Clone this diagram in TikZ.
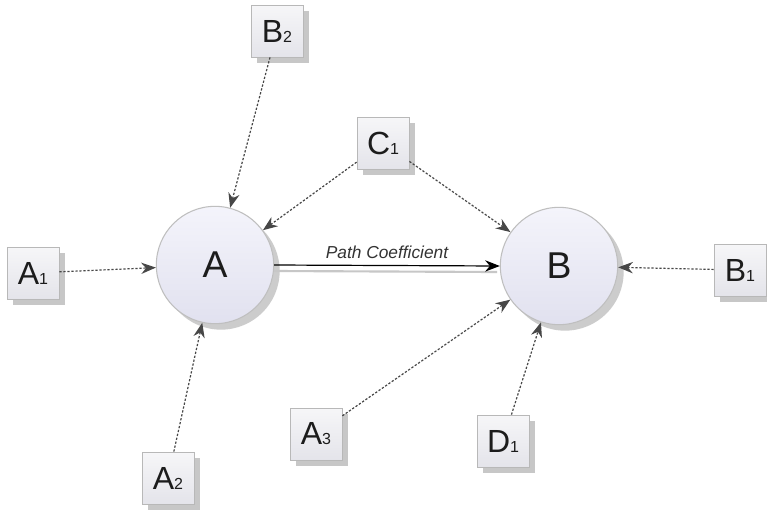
\documentclass[tikz,border=0pt]{standalone}
\usepackage{fontspec}
\setmainfont{Liberation Sans}
\usetikzlibrary{arrows.meta,shadows}
\definecolor{lavtop}{HTML}{F4F4FB}
\definecolor{lavbot}{HTML}{E1E1EF}
\definecolor{boxtop}{HTML}{F6F6F8}
\definecolor{boxbot}{HTML}{E4E4EA}
\definecolor{inkgray}{HTML}{1C1C1C}
% variable name with a small trailing index on the baseline
\newcommand\varname[2]{{\fontsize{24}{24}\selectfont #1}{\fontsize{12}{12}\selectfont #2}}
\begin{document}
\begin{tikzpicture}[x=0.75pt,y=-0.75pt,
  obsbox/.style={rectangle, draw=black!28, line width=0.6pt,
    top color=boxtop, bottom color=boxbot,
    minimum width=39pt, minimum height=39pt, inner sep=0pt, text=inkgray,
    drop shadow={shadow xshift=4.5pt, shadow yshift=-4.5pt, fill=black!22, opacity=1}},
  latent/.style={circle, draw=black!25, line width=0.8pt,
    top color=lavtop, bottom color=lavbot,
    minimum size=88pt, inner sep=0pt, text=inkgray,
    font=\fontsize{28}{28}\selectfont,
    drop shadow={shadow xshift=4.5pt, shadow yshift=-4.5pt, fill=black!20, opacity=1}},
  link/.style={draw=black!72, line width=0.9pt, dash pattern=on 1.7pt off 1.3pt,
    -{Stealth[length=11pt,width=8.5pt]}},
  pathlink/.style={draw=black, line width=0.9pt, -{Stealth[length=11pt,width=8.5pt]}},
]
\useasboundingbox[fill=white] (0,0) rectangle (767,511);

% latent variables
\node[latent] (A) at (215,265) {A};
\node[latent] (B) at (559,266) {B};

% observed variables
\node[obsbox] (A1) at (33,273)  {\varname{A}{1}};
\node[obsbox] (B2) at (277,31)  {\varname{B}{2}};
\node[obsbox] (C1) at (383,143) {\varname{C}{1}};
\node[obsbox] (B1) at (740,270) {\varname{B}{1}};
\node[obsbox] (A2) at (168,478) {\varname{A}{2}};
\node[obsbox] (A3) at (316,434) {\varname{A}{3}};
\node[obsbox] (D1) at (503,441) {\varname{D}{1}};

% structural path with its soft shadow
\draw[black!22, line width=1.6pt] ([yshift=-4.5pt]A.east) -- ([yshift=-4.5pt,xshift=-2pt]B.west);
\draw[pathlink] (A.east) -- node[above=1.5pt, font=\fontsize{13}{13}\selectfont\itshape, text=black!80] {Path Coefficient} (B.west);

% measurement links
\draw[link] (A1) -- (A);
\draw[link] (B2) -- (A);
\draw[link] (C1) -- (A);
\draw[link] (A2) -- (A);
\draw[link] (C1) -- (B);
\draw[link] (A3) -- (B);
\draw[link] (D1) -- (B);
\draw[link] (B1) -- (B);
\end{tikzpicture}
\end{document}
